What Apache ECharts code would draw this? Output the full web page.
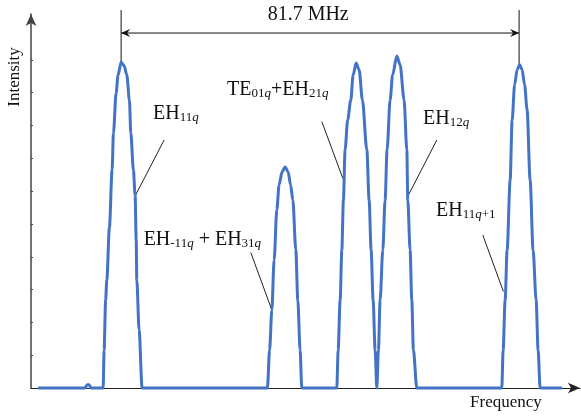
<!DOCTYPE html>
<html>
<head>
<meta charset="utf-8">
<script src="https://cdn.jsdelivr.net/npm/echarts@6/dist/echarts.min.js"></script>
<style>html,body{margin:0;padding:0;background:#fff;}#c{width:581px;height:417px;}</style>
</head>
<body>
<div id="c"></div>
<script>
// Frequency offset (MHz, relative to the EH11q peak) and relative intensity
const freq = [
  -17.04, -7.4, -6.98, -6.57, -6.16,
  -3.69, -3.49, -3.18, -2.94, -2.4, -1.85, -1.58, -1.03, -0.62, 0, 0.62, 1.17, 1.70, 1.99, 2.52, 2.87, 3.1, 3.22, 3.69, 4.31,
  30.03, 30.48, 30.94, 31.41, 31.96, 32.43, 33.05, 33.67, 34.28, 34.79, 35.25, 35.86, 36.27, 36.74, 37.09,
  44.28, 44.55, 44.96, 45.31, 45.63, 45.98, 46.50, 47.15, 47.63, 48.24, 48.86, 49.53, 50.44, 50.91, 51.32, 51.73, 52.14, 52.49,
  52.82, 53.17, 53.72, 54.19, 54.60, 55.22, 55.73, 56.59, 57.27, 58.09, 58.65, 58.85, 59.32, 59.67, 60.00, 60.70,
  78.15, 78.42, 78.83, 79.24, 79.86, 80.27, 80.78, 81.29, 81.80, 82.32, 82.83, 83.34, 83.96, 84.57, 85.19, 85.60, 86.01,
  90.53
];
const intensity = [
  0, 0, 0.1, 0.1, 0,
  0, 1.16, 2.68, 3.29, 4.9, 6.65, 7.77, 8.99, 9.54, 9.94, 9.82, 9.54, 8.78, 7.77, 6.65, 5.88, 4.5, 3.29, 1.77, 0,
  0, 1.16, 2.38, 3.90, 5.43, 6.19, 6.59, 6.74, 6.59, 6.19, 5.73, 4.21, 2.68, 1.16, 0,
  0, 1.16, 2.68, 4.21, 5.73, 7.26, 8.17, 8.78, 9.54, 9.91, 9.70, 8.78, 7.26, 5.73, 4.21, 2.68, 1.16, 0,
  1.16, 2.68, 4.21, 5.73, 7.26, 8.78, 9.54, 10.12, 9.85, 8.78, 7.26, 5.73, 4.21, 2.68, 1.16, 0,
  0, 1.16, 2.68, 4.21, 6.34, 8.17, 9.24, 9.70, 9.85, 9.70, 9.24, 8.48, 6.34, 4.21, 2.68, 1.16, 0,
  0
];
const yTicks = [1, 2, 3, 4, 5, 6, 7, 8, 9, 10];
const spacingLabel = '81.7 MHz';
const spacingFrom = 0, spacingTo = 81.7;

// mode labels: rich text, anchor (freq, intensity) of text left/middle, pointer line from->to
const modeLabels = [
  { text: '{m|EH}{s|11}{i|q}', at: [6.57, 8.41], from: [8.83, 7.56], to: [2.87, 5.85] },
  { text: '{m|EH}{s|-11}{i|q}{m| + EH}{s|31}{i|q}', at: [4.62, 4.57], from: [26.62, 4.13], to: [30.93, 2.38] },
  { text: '{m|TE}{s|01}{i|q}{m|+EH}{s|21}{i|q}', at: [21.76, 9.15], from: [41.20, 8.12], to: [45.51, 6.39] },
  { text: '{m|EH}{s|12}{i|q}', at: [61.99, 8.26], from: [64.81, 7.56], to: [58.98, 5.88] },
  { text: '{m|EH}{s|11}{i|q}{s|+1}', at: [64.66, 5.46], from: [74.25, 4.66], to: [78.48, 2.94] }
];

const chart = echarts.init(document.getElementById('c'), null, { renderer: 'canvas' });
const serif = '"Liberation Serif", "DejaVu Serif", serif';
chart.setOption({
  animation: false,
  backgroundColor: '#ffffff',
  grid: { left: 31, right: 1, top: 14, bottom: 29 },
  xAxis: {
    type: 'value', min: -18.5, max: 94.2,
    axisLine: { onZero: false, lineStyle: { color: '#222', width: 1 }, symbol: ['none', 'arrow'], symbolSize: [8, 12] },
    axisTick: { show: false }, axisLabel: { show: false }, splitLine: { show: false }
  },
  yAxis: {
    type: 'value', min: 0, max: 11.4,
    axisLine: { show: true, onZero: false, lineStyle: { color: '#444', width: 1.5 }, symbol: ['none', 'arrow'], symbolSize: [8, 12] },
    axisTick: { show: true, inside: true, length: 2, customValues: yTicks, lineStyle: { color: '#444' } },
    axisLabel: { show: false }, splitLine: { show: false }
  },
  series: [{
    type: 'line',
    data: freq.map((f, i) => [f, intensity[i]]),
    showSymbol: false,
    smooth: 0.3,
    smoothMonotone: 'x',
    lineStyle: { color: '#4472c4', width: 3 },
    clip: false
  }]
});

function P(x, y) { return chart.convertToPixel({ gridIndex: 0 }, [x, y]); }
const rich = {
  m: { fontFamily: serif, fontSize: 20, fill: '#111', verticalAlign: 'bottom', lineHeight: 24 },
  s: { fontFamily: serif, fontSize: 13, fill: '#111', verticalAlign: 'bottom', lineHeight: 20 },
  i: { fontFamily: serif, fontSize: 13, fontStyle: 'italic', fill: '#111', verticalAlign: 'bottom', lineHeight: 20 }
};
const g = [];
modeLabels.forEach(l => {
  const a = P(l.at[0], l.at[1]);
  g.push({ type: 'text', x: a[0], y: a[1], style: { text: l.text, rich: rich, verticalAlign: 'middle', align: 'left' } });
  const p1 = P(l.from[0], l.from[1]), p2 = P(l.to[0], l.to[1]);
  g.push({ type: 'line', shape: { x1: p1[0], y1: p1[1], x2: p2[0], y2: p2[1] }, style: { stroke: '#222', lineWidth: 1 } });
});
// spacing dimension
const yTop = 11.52, yArrow = 10.82;
const L1 = P(spacingFrom, yTop), L1b = P(spacingFrom, 9.94);
const R1 = P(spacingTo, yTop), R1b = P(spacingTo, 9.85);
const A = P(spacingFrom, yArrow), B = P(spacingTo, yArrow);
g.push({ type: 'line', shape: { x1: L1[0], y1: L1[1], x2: L1b[0], y2: L1b[1] }, style: { stroke: '#111', lineWidth: 1 } });
g.push({ type: 'line', shape: { x1: R1[0], y1: R1[1], x2: R1b[0], y2: R1b[1] }, style: { stroke: '#111', lineWidth: 1 } });
g.push({ type: 'line', shape: { x1: A[0], y1: A[1], x2: B[0], y2: B[1] }, style: { stroke: '#111', lineWidth: 1 } });
g.push({ type: 'polygon', shape: { points: [[A[0], A[1]], [A[0] + 9, A[1] - 4], [A[0] + 6, A[1]], [A[0] + 9, A[1] + 4]] }, style: { fill: '#111' } });
g.push({ type: 'polygon', shape: { points: [[B[0], B[1]], [B[0] - 9, B[1] - 4], [B[0] - 6, B[1]], [B[0] - 9, B[1] + 4]] }, style: { fill: '#111' } });
const T = P(38.4, 11.37);
g.push({ type: 'text', x: T[0], y: T[1], style: { text: spacingLabel, fontFamily: serif, fontSize: 20, fill: '#111', align: 'center', verticalAlign: 'middle' } });
// axis names
const yn = P(-18.5, 9.48);
g.push({ type: 'text', x: yn[0] - 16, y: yn[1], rotation: Math.PI / 2, style: { text: 'Intensity', fontFamily: serif, fontSize: 17, fill: '#111', align: 'center', verticalAlign: 'middle' } });
const xn = P(79.0, 0);
g.push({ type: 'text', x: xn[0], y: xn[1] + 15, style: { text: 'Frequency', fontFamily: serif, fontSize: 17, fill: '#111', align: 'center', verticalAlign: 'middle' } });
chart.setOption({ graphic: { elements: g } });
</script>
</body>
</html>
